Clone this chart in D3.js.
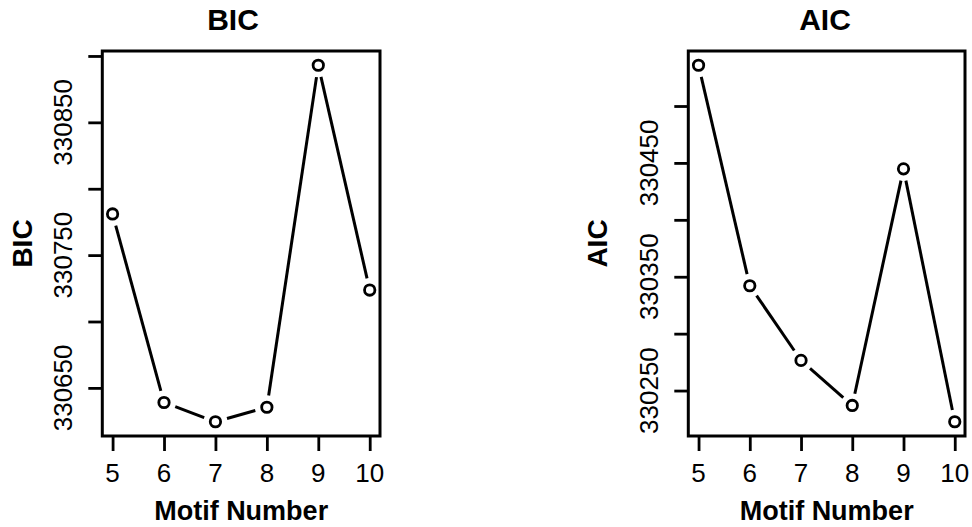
<!DOCTYPE html>
<html>
<head>
	<meta charset="utf-8">
	<title>BIC / AIC by motif number</title>
	<style>
		body { margin: 0; background: #fff; }
		text { font-family: "Liberation Sans", Arial, Helvetica, sans-serif; fill: #000; }
	</style>
</head>
<body>
	<script src="https://cdn.jsdelivr.net/npm/d3@7"></script>
	<script>
// data
var motifs = [5, 6, 7, 8, 9, 10];
var bicValues = [330781, 330639, 330624.5, 330635.4, 330893, 330723.7];
var aicValues = [330535.8, 330342.1, 330276.5, 330236.9, 330444.8, 330222.6];

var bicTicks = [330650, 330700, 330750, 330800, 330850, 330900];
var bicTickLabels = [330650, 330750, 330850];
var aicTicks = [330250, 330300, 330350, 330400, 330450, 330500];
var aicTickLabels = [330250, 330350, 330450];

var svg = d3.select('body').append('svg')
			.attr('width', 972)
			.attr('height', 527);

// like R: pad the data range by 4% on each side
function padded(values) {
	var ext = d3.extent(values);
	var pad = (ext[1] - ext[0]) * 0.04;
	return [ext[0] - pad, ext[1] + pad];
}

function panel(opts) {
	var x = d3.scaleLinear().domain(padded(motifs)).range([opts.left, opts.right]);
	var y = d3.scaleLinear().domain(padded(opts.values)).range([opts.bottom, opts.top]);
	var g = svg.append('g');

	// ticks
	var xAxis = g.append('g')
		.attr('transform', 'translate(0,' + opts.bottom + ')')
		.call(d3.axisBottom(x).tickValues(motifs).tickSize(15).tickSizeOuter(0).tickFormat(''));
	var yAxis = g.append('g')
		.attr('transform', 'translate(' + opts.left + ',0)')
		.call(d3.axisLeft(y).tickValues(opts.ticks).tickSize(14).tickSizeOuter(0).tickFormat(''));
	[xAxis, yAxis].forEach(function(a) {
		a.select('.domain').remove();
		a.selectAll('line').attr('stroke', '#000').attr('stroke-width', 2.8);
	});

	// tick labels
	g.selectAll('.xlab').data(motifs).enter().append('text')
		.attr('x', function(d) { return x(d); })
		.attr('y', 482)
		.attr('text-anchor', 'middle')
		.style('font-size', '26px')
		.text(function(d) { return d; });

	g.selectAll('.ylab').data(opts.tickLabels).enter().append('text')
		.attr('transform', function(d) { return 'translate(' + opts.yLabX + ',' + y(d) + ') rotate(-90)'; })
		.attr('text-anchor', 'middle')
		.style('font-size', '26px')
		.text(function(d) { return d; });

	// box
	g.append('rect')
		.attr('x', opts.left).attr('y', opts.top)
		.attr('width', opts.right - opts.left).attr('height', opts.bottom - opts.top)
		.attr('fill', 'none').attr('stroke', '#000').attr('stroke-width', 3);

	// line segments with a gap round each point (type = "b")
	var pts = motifs.map(function(m, i) { return [x(m), y(opts.values[i])]; });
	var gap = 12;
	var segs = d3.pairs(pts).map(function(p) {
		var dx = p[1][0] - p[0][0], dy = p[1][1] - p[0][1];
		var len = Math.sqrt(dx * dx + dy * dy);
		var ux = dx / len, uy = dy / len;
		return [p[0][0] + ux * gap, p[0][1] + uy * gap, p[1][0] - ux * gap, p[1][1] - uy * gap];
	});
	g.selectAll('.seg').data(segs).enter().append('line')
		.attr('x1', function(d) { return d[0]; })
		.attr('y1', function(d) { return d[1]; })
		.attr('x2', function(d) { return d[2]; })
		.attr('y2', function(d) { return d[3]; })
		.attr('stroke', '#000').attr('stroke-width', 3);

	g.selectAll('circle').data(pts).enter().append('circle')
		.attr('cx', function(d) { return d[0]; })
		.attr('cy', function(d) { return d[1]; })
		.attr('r', 5.2)
		.attr('fill', 'none').attr('stroke', '#000').attr('stroke-width', 2.8);

	// titles
	g.append('text')
		.attr('x', opts.titleX).attr('y', 30)
		.attr('text-anchor', 'middle')
		.style('font-size', '30px').style('font-weight', 'bold')
		.text(opts.title);

	g.append('text')
		.attr('x', (opts.left + opts.right) / 2).attr('y', 520)
		.attr('text-anchor', 'middle')
		.style('font-size', '27px').style('font-weight', 'bold')
		.text('Motif Number');

	g.append('text')
		.attr('transform', 'translate(' + opts.yTitleX + ',' + (opts.top + opts.bottom) / 2 + ') rotate(-90)')
		.attr('text-anchor', 'middle')
		.style('font-size', '28px').style('font-weight', 'bold')
		.text(opts.title);
}

panel({
	title: 'BIC', values: bicValues, ticks: bicTicks, tickLabels: bicTickLabels,
	left: 102.3, right: 380, top: 51, bottom: 436,
	yLabX: 72, yTitleX: 32, titleX: 233
});

panel({
	title: 'AIC', values: aicValues, ticks: aicTicks, tickLabels: aicTickLabels,
	left: 688.3, right: 965, top: 51, bottom: 436,
	yLabX: 658, yTitleX: 607, titleX: 825
});

	</script>
</body>
</html>
